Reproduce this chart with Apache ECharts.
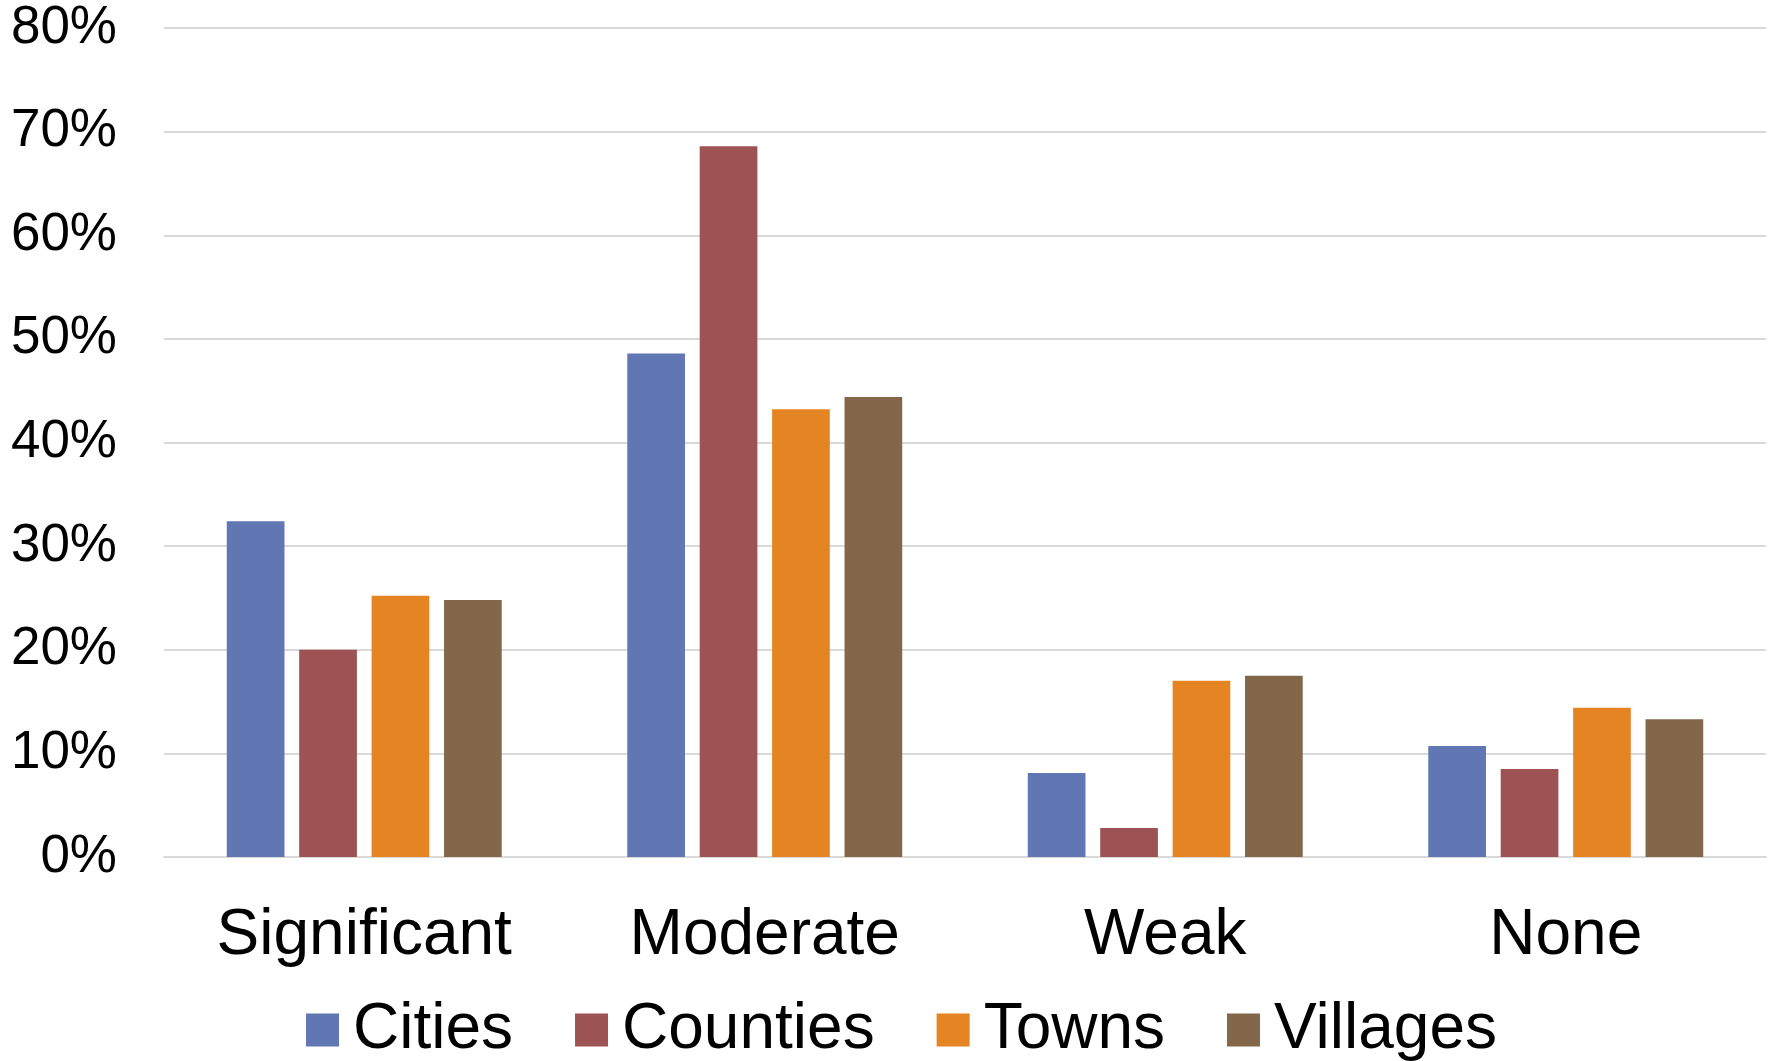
<!DOCTYPE html>
<html>
<head>
<meta charset="utf-8">
<script src="https://cdn.jsdelivr.net/npm/echarts@6/dist/echarts.min.js"></script>
<style>
html,body{margin:0;padding:0;background:#fff;}
#main{width:1773px;height:1061px;}
</style>
</head>
<body>
<div id="main"></div>
<script>
const categories = ['Significant', 'Moderate', 'Weak', 'None'];
const seriesNames = ['Cities', 'Counties', 'Towns', 'Villages'];
const cities = [32.4, 48.6, 8.1, 10.7];
const counties = [20.0, 68.6, 2.8, 8.5];
const towns = [25.2, 43.2, 17.0, 14.4];
const villages = [24.8, 44.4, 17.5, 13.3];
const colors = ['#6177b4', '#9d5253', '#e58423', '#83674b'];
const yTicks = [0, 10, 20, 30, 40, 50, 60, 70, 80];

const FONT = '"Liberation Sans", Arial, sans-serif';
const values = [cities, counties, towns, villages];

const chart = echarts.init(document.getElementById('main'));
chart.setOption({
  animation: false,
  backgroundColor: '#ffffff',
  textStyle: { fontFamily: FONT },
  grid: { left: 164, right: 7, top: 28, bottom: 204, containLabel: false },
  legend: {
    data: seriesNames,
    left: 306,
    top: 998,
    padding: 0,
    icon: 'rect',
    itemWidth: 33,
    itemHeight: 33,
    itemGap: 62,
    textStyle: { fontSize: 64, color: '#000', fontFamily: FONT, lineHeight: 64, padding: [0, 0, 0, 9] }
  },
  xAxis: {
    type: 'category',
    data: categories,
    axisLine: { show: true, lineStyle: { color: '#d9d9d9', width: 2 } },
    axisTick: { show: false },
    axisLabel: { fontSize: 64, color: '#000', margin: 47, fontFamily: FONT }
  },
  yAxis: {
    type: 'value',
    min: 0,
    max: 80,
    interval: 10,
    axisLine: { show: false },
    axisTick: { show: false },
    splitLine: { lineStyle: { color: '#d9d9d9', width: 2 } },
    axisLabel: {
      fontSize: 53, color: '#000', margin: 47, fontFamily: FONT,
      formatter: v => (yTicks.includes(v) ? v + '%' : '')
    }
  },
  series: seriesNames.map((name, i) => ({
    name: name,
    type: 'bar',
    data: values[i],
    barWidth: 57.7,
    barGap: '25.5%',
    itemStyle: { color: colors[i] }
  }))
});
</script>
</body>
</html>
